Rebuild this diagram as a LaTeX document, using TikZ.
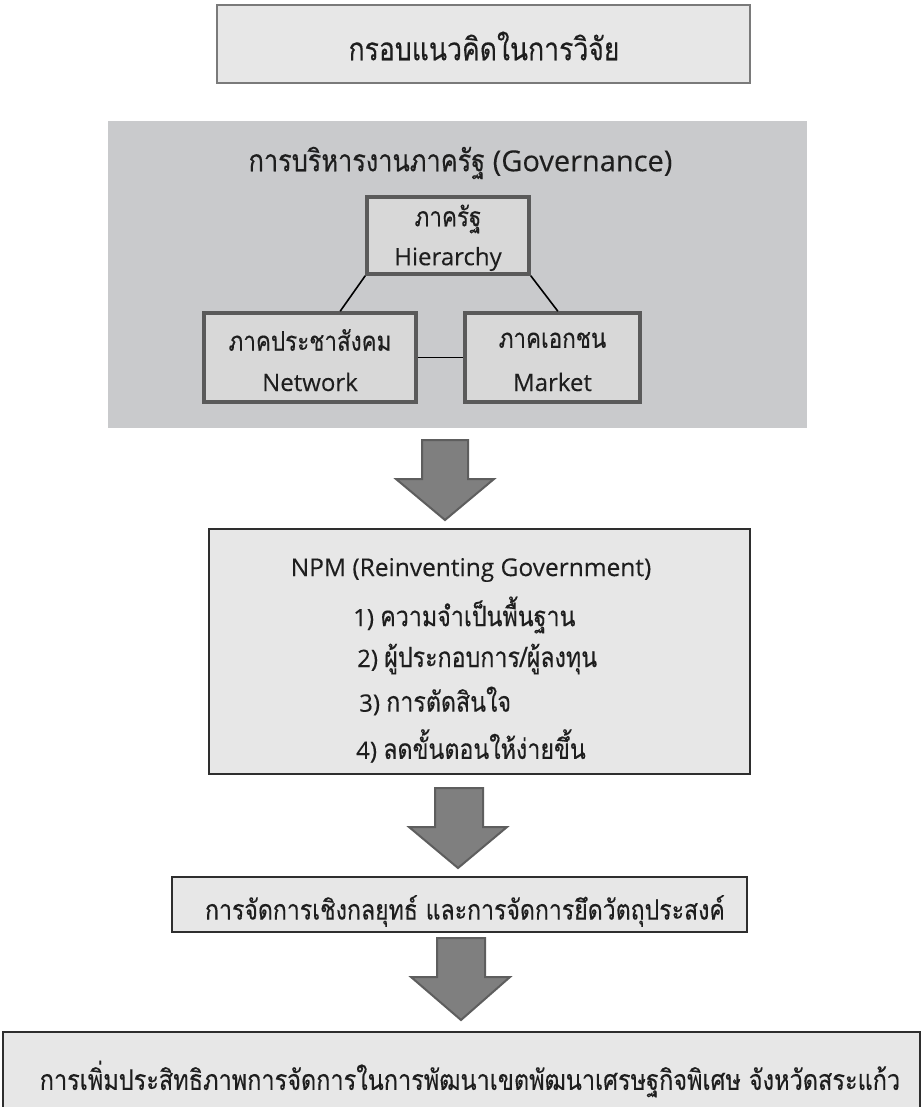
\documentclass[tikz,border=0pt]{standalone}
\usepackage{fontspec}
\usepackage{graphicx}
\setmainfont{Open Sans}[FakeBold=0.15]
\newfontfamily\thai[Script=Thai, FakeStretch=0.83, FakeBold=0.25]{Loma}
\usetikzlibrary{calc}
\definecolor{lightbox}{HTML}{E7E7E7}
\definecolor{panelgray}{HTML}{C9CACC}
\definecolor{innerfill}{HTML}{D8D8D8}
\definecolor{innerdraw}{HTML}{5A5A5A}
\definecolor{arrowfill}{HTML}{7F7F7F}
\definecolor{arrowdraw}{HTML}{5E5E5E}
\definecolor{titledraw}{HTML}{7A7A7A}
\definecolor{boxdraw}{HTML}{2E2E2E}
\definecolor{ink}{HTML}{1E1E1E}
\tikzset{
  titlebox/.style={draw=titledraw, line width=1.5pt, fill=lightbox, inner sep=0pt},
  panelbox/.style={fill=panelgray, inner sep=0pt},
  innerbox/.style={draw=innerdraw, line width=3.5pt, fill=innerfill, inner sep=0pt},
  flowbox/.style={draw=boxdraw, line width=2pt, fill=lightbox, inner sep=0pt},
  link/.style={draw=black, line width=1.6pt},
  blockarrow/.style={fill=arrowfill, draw=arrowdraw, line width=2pt, line join=miter},
  txt/.style={inner sep=0pt, text=ink},
}
\begin{document}
\begin{tikzpicture}[x=1pt,y=-1pt]
\useasboundingbox (0,0) rectangle (922,1107);
\fill[white] (0,0) rectangle (922,1107);

% title
\node[titlebox, minimum width=533pt, minimum height=78pt] (title) at (483.5,44) {};
\node[txt] (titletext) at (484,46) {\thai\fontsize{32}{36}\selectfont กรอบแนวคิดในการวิจัย};

% governance panel
\node[panelbox, minimum width=699pt, minimum height=307pt] (gov) at (457.5,274.5) {};
\node[txt] (govtitle) at (460.5,163) {{\thai\fontsize{30.5}{34}\selectfont การบริหารงานภาครัฐ}{\fontsize{29}{34}\selectfont\space(Governance)}};

\node[innerbox, minimum width=162pt, minimum height=77pt] (hier) at (448,235.5) {};
\node[txt] (hierT) at (448,219) {\thai\fontsize{27}{30}\selectfont ภาครัฐ};
\node[txt] (hierE) at (448,259) {\fontsize{24}{28}\selectfont Hierarchy};

\node[innerbox, minimum width=212pt, minimum height=89pt] (net) at (310,357.5) {};
\node[txt] (netT) at (310,340) {\thai\fontsize{27}{30}\selectfont ภาคประชาสังคม};
\node[txt] (netE) at (310,382) {\fontsize{24}{28}\selectfont Network};

\node[innerbox, minimum width=175pt, minimum height=89pt] (mkt) at (552.5,357.5) {};
\node[txt] (mktT) at (552.5,340) {\thai\fontsize{27}{30}\selectfont ภาคเอกชน};
\node[txt] (mktE) at (552.5,382) {\fontsize{24}{28}\selectfont Market};

\coordinate (netTop) at ($(net.north west)!0.64!(net.north east)$);
\coordinate (mktTop) at ($(mkt.north west)!0.53!(mkt.north east)$);
\draw[link] (hier.south west) -- (netTop);
\draw[link] (hier.south east) -- (mktTop);
\draw[link] (net.east) -- (mkt.west);

% arrow 1
\draw[blockarrow] (422,440) -- (468,440) -- (468,479) -- (494,479) -- (445,520) -- (396,479) -- (422,479) -- cycle;

% NPM box
\node[flowbox, minimum width=541pt, minimum height=245pt] (npm) at (479.5,651) {};
\node[txt] (npmT) at (471,570) {\fontsize{24.5}{28}\selectfont NPM (Reinventing Government)};
\node[txt, anchor=west] (n1) at (353,615) {\fontsize{24}{28}\selectfont 1) {\thai\fontsize{28}{30}\selectfont ความจำเป็นพื้นฐาน}};
\node[txt, anchor=west] (n2) at (357,659) {\fontsize{24}{28}\selectfont 2) {\thai\fontsize{28}{30}\selectfont ผู้ประกอบการ/ผู้ลงทุน}};
\node[txt, anchor=west] (n3) at (359,701) {\fontsize{24}{28}\selectfont 3) {\thai\fontsize{28}{30}\selectfont การตัดสินใจ}};
\node[txt, anchor=west] (n4) at (356,746) {\fontsize{24}{28}\selectfont 4) {\thai\fontsize{28}{30}\selectfont ลดขั้นตอนให้ง่ายขึ้น}};

% arrow 2
\draw[blockarrow] (435,788) -- (483,788) -- (483,827) -- (507,827) -- (458,868) -- (409,827) -- (435,827) -- cycle;

% box 3
\node[flowbox, minimum width=575pt, minimum height=55pt] (strat) at (459.5,904) {};
\node[txt] (stratT) at (465,911) {\thai\fontsize{27.8}{30}\selectfont การจัดการเชิงกลยุทธ์ และการจัดการยึดวัตถุประสงค์};

% arrow 3
\draw[blockarrow] (437,938) -- (485,938) -- (485,977) -- (510,977) -- (461,1020) -- (411,977) -- (437,977) -- cycle;

% box 4
\node[flowbox, minimum width=917pt, minimum height=90pt] (goal) at (461.5,1077) {};
\node[txt] (goalT) at (470,1079) {\thai\fontsize{28.3}{30}\selectfont การเพิ่มประสิทธิภาพการจัดการในการพัฒนาเขตพัฒนาเศรษฐกิจพิเศษ จังหวัดสระแก้ว};
\end{tikzpicture}
\end{document}
